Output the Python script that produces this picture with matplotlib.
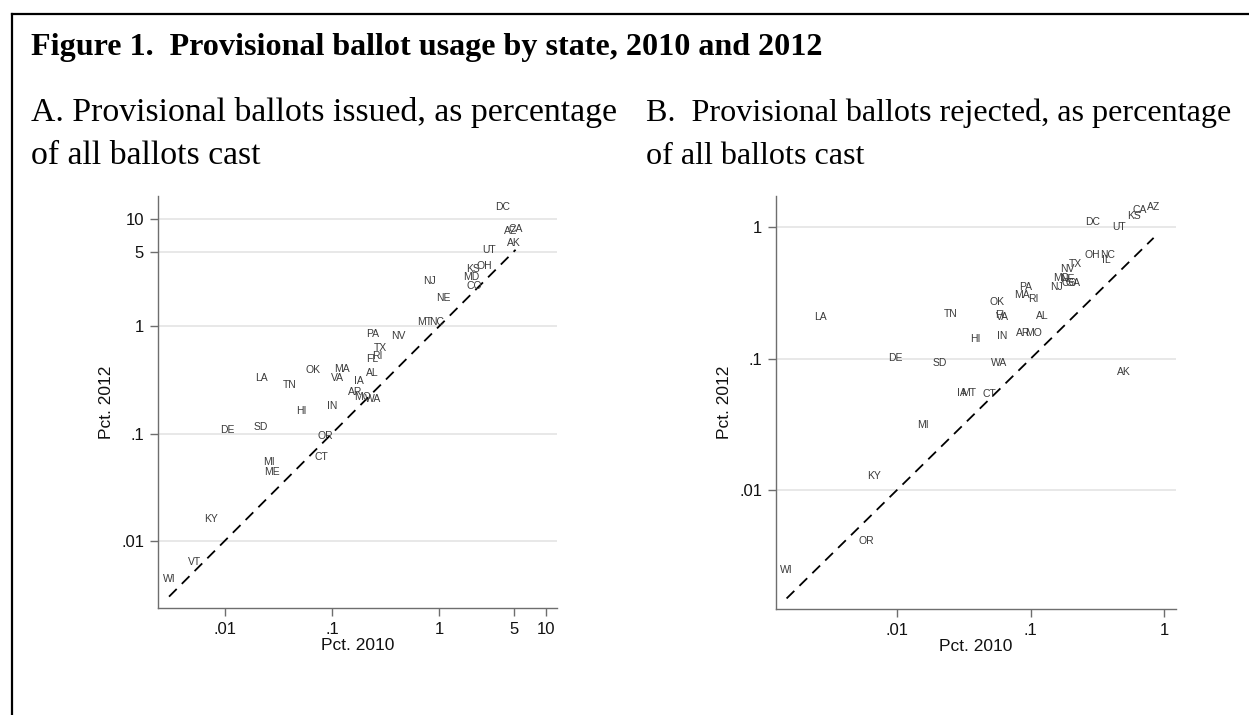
import matplotlib
matplotlib.use("Agg")
import matplotlib.pyplot as plt
from matplotlib.lines import Line2D

# ---------------- data ----------------
states_a = ["DC", "CA", "AZ", "AK", "UT", "OH", "KS", "MD", "CO", "NJ", "NE", "MT", "NC",
            "PA", "NV", "TX", "RI", "FL", "AL", "OK", "MA", "VA", "IA", "LA", "TN", "AR",
            "MO", "WA", "HI", "IN", "DE", "SD", "OR", "CT", "MI", "ME", "KY", "VT", "WI"]
issued_2010 = [3.94, 5.2, 4.68, 5.0, 2.95, 2.64, 2.1, 1.99, 2.12, 0.81, 1.10, 0.73, 0.95,
               0.24, 0.417, 0.281, 0.267, 0.238, 0.238, 0.0668, 0.125, 0.112, 0.178, 0.022,
               0.0399, 0.166, 0.192, 0.243, 0.052, 0.101, 0.0105, 0.0216, 0.086, 0.080,
               0.026, 0.0273, 0.0074, 0.00516, 0.0030]
issued_2012 = [13.1, 8.1, 7.8, 6.0, 5.2, 3.66, 3.43, 2.91, 2.39, 2.67, 1.84, 1.11, 1.11,
               0.85, 0.82, 0.632, 0.525, 0.499, 0.369, 0.392, 0.40, 0.33, 0.311, 0.333,
               0.283, 0.244, 0.220, 0.212, 0.164, 0.179, 0.107, 0.116, 0.095, 0.061,
               0.0547, 0.0435, 0.0158, 0.00637, 0.00441]

states_b = ["AZ", "CA", "KS", "DC", "UT", "OH", "NC", "IL", "TX", "NV", "MD", "NE", "CO",
            "GA", "NJ", "PA", "MA", "RI", "OK", "FL", "VA", "AL", "TN", "LA", "HI", "IN",
            "AR", "MO", "DE", "SD", "WA", "AK", "IA", "MT", "CT", "MI", "KY", "OR", "WI"]
rejected_2010 = [0.832, 0.653, 0.589, 0.289, 0.46, 0.288, 0.376, 0.367, 0.215, 0.188, 0.168,
                 0.187, 0.195, 0.207, 0.155, 0.091, 0.086, 0.105, 0.0555, 0.0600, 0.0615,
                 0.123, 0.0252, 0.00268, 0.0388, 0.0615, 0.0885, 0.105, 0.00966, 0.021,
                 0.0585, 0.50, 0.0305, 0.0342, 0.049, 0.0156, 0.00673, 0.00586, 0.00149]
rejected_2012 = [1.42, 1.355, 1.22, 1.09, 1.0, 0.612, 0.612, 0.563, 0.525, 0.481, 0.413,
                 0.401, 0.378, 0.378, 0.352, 0.349, 0.303, 0.283, 0.270, 0.214, 0.206,
                 0.211, 0.217, 0.208, 0.1416, 0.150, 0.1556, 0.158, 0.1004, 0.092, 0.093,
                 0.0794, 0.0549, 0.0549, 0.0536, 0.0311, 0.0128, 0.00408, 0.00244]

ticks_a = [0.01, 0.1, 1, 5, 10]
ticklabels_a = [".01", ".1", "1", "5", "10"]
ticks_b = [0.01, 0.1, 1]
ticklabels_b = [".01", ".1", "1"]

title = "Figure 1.  Provisional ballot usage by state, 2010 and 2012"
sub_a = ["A. Provisional ballots issued, as percentage", "of all ballots cast"]
sub_b = ["B.  Provisional ballots rejected, as percentage", "of all ballots cast"]
xlab = "Pct. 2010"
ylab = "Pct. 2012"

# ---------------- figure ----------------
W, H = 1249, 715
DPI = 100
fig = plt.figure(figsize=(W / DPI, H / DPI), dpi=DPI)
fig.patch.set_facecolor("white")

SANS = ["Liberation Sans", "DejaVu Sans"]
SERIF = ["Liberation Serif", "DejaVu Serif"]

def px2fig(x, y):
    return x / W, 1 - y / H

# outer frame (top and left lines)
fig.add_artist(Line2D([12 / W, 1.0], [1 - 14 / H, 1 - 14 / H], transform=fig.transFigure,
                      color="black", lw=1.6))
fig.add_artist(Line2D([12 / W, 12 / W], [1 - 14 / H, 0], transform=fig.transFigure,
                      color="black", lw=1.6))

renderer = fig.canvas.get_renderer()

def fitted_text(x, y, s, width_px, weight="normal", size=None):
    t = fig.text(*px2fig(x, y), s, ha="left", va="baseline", fontsize=20,
                 family=SERIF, weight=weight, color="black")
    if size is not None:
        t.set_fontsize(size)
        return t
    w = t.get_window_extent(renderer=renderer).width
    t.set_fontsize(20 * width_px / w)
    return t

fitted_text(31, 55, title, 792, weight="bold")
ta = fitted_text(31, 121, sub_a[0], 587)
fitted_text(31, 164, sub_a[1], 0, size=ta.get_fontsize())
tb = fitted_text(646, 121, sub_b[0], 586)
fitted_text(646, 164, sub_b[1], 0, size=tb.get_fontsize())

AXIS_COL = "#6e6e6e"
GRID_COL = "#e6e6e6"
LAB_COL = "#3a3a3a"

def make_panel(rect_px, xlim, ylim, states, xs, ys, ticks, ticklabels):
    l, t, r, b = rect_px
    ax = fig.add_axes([l / W, 1 - b / H, (r - l) / W, (b - t) / H])
    ax.set_xscale("log")
    ax.set_yscale("log")
    ax.set_xlim(*xlim)
    ax.set_ylim(*ylim)
    for sp in ["top", "right"]:
        ax.spines[sp].set_visible(False)
    for sp in ["left", "bottom"]:
        ax.spines[sp].set_color(AXIS_COL)
        ax.spines[sp].set_linewidth(1.0)
    ax.set_xticks(ticks)
    ax.set_xticklabels(ticklabels)
    ax.set_yticks(ticks)
    ax.set_yticklabels(ticklabels)
    ax.minorticks_off()
    ax.tick_params(axis="both", which="major", length=6, width=1.0, color=AXIS_COL,
                   labelsize=12, labelcolor="#111111", pad=4)
    for lab in ax.get_xticklabels() + ax.get_yticklabels():
        lab.set_family(SANS)
    ax.yaxis.grid(True, color=GRID_COL, lw=1.3)
    ax.xaxis.grid(False)
    ax.set_axisbelow(True)
    # 45-degree reference line
    lo, hi = min(xs), max(xs)
    ax.plot([lo, hi], [lo, hi], ls=(0, (6, 4)), color="black", lw=1.3)
    for s, x, y in zip(states, xs, ys):
        ax.text(x, y, s, ha="center", va="center", fontsize=7.5, family=SANS, color=LAB_COL)
    ax.set_xlabel(xlab, fontsize=12.5, family=SANS, color="#111111", labelpad=1)
    ax.set_ylabel(ylab, fontsize=12.5, family=SANS, color="#111111", labelpad=5)
    return ax

ax1 = make_panel((158, 196, 557, 608), (10 ** -2.626, 10 ** 1.103), (10 ** -2.629, 10 ** 1.218),
                 states_a, issued_2010, issued_2012, ticks_a, ticklabels_a)
ax2 = make_panel((776, 196, 1176, 609), (10 ** -2.906, 10 ** 0.0876), (10 ** -2.907, 10 ** 0.239),
                 states_b, rejected_2010, rejected_2012, ticks_b, ticklabels_b)

fig.savefig("out.png", dpi=DPI, facecolor="white")
